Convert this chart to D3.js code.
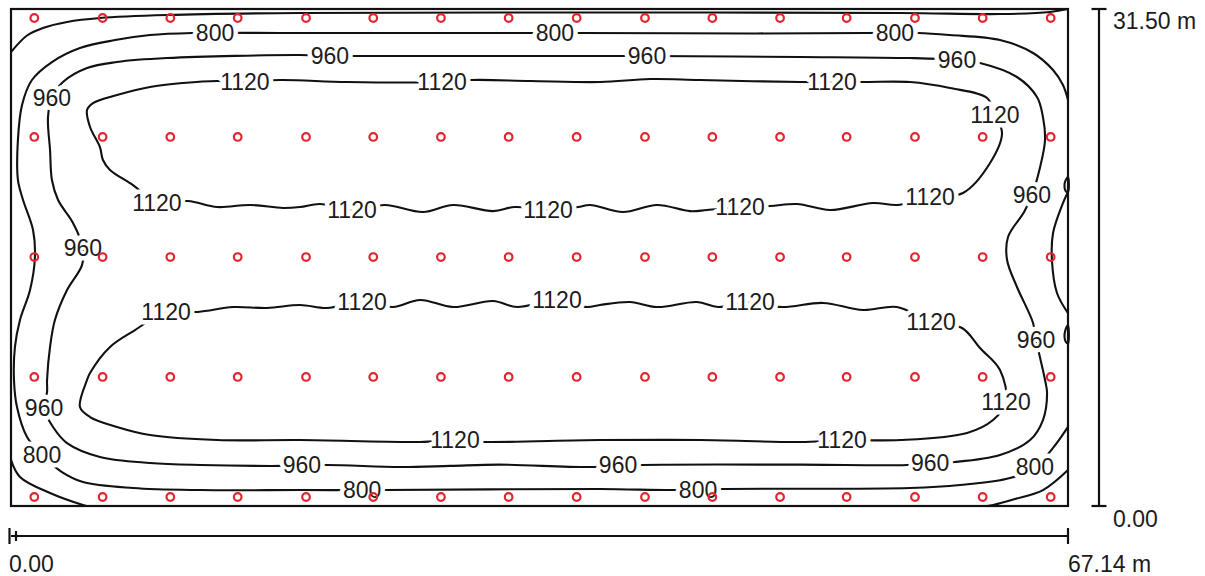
<!DOCTYPE html>
<html>
<head>
<meta charset="utf-8">
<script src="https://cdn.jsdelivr.net/npm/d3@7"></script>
<style>
    body { margin: 0; background: #fff; }
    svg { display: block; font-family: "Liberation Sans", Arial, sans-serif; }
</style>
</head>
<body>
<div id="chart"></div>
<script>
'use strict';

// room size in metres
const roomWidth = 67.14;
const roomDepth = 31.5;

// measuring points (metres)
const gridX = [1.48, 5.82, 10.12, 14.40, 18.74, 23.01, 27.31, 31.61, 35.93, 40.27, 44.55, 48.85, 53.08, 57.42, 61.72, 66.04];
const gridY = [0.57, 8.18, 15.78, 23.39, 30.93];

// isolux lines, [x, y] in metres
const line640Top = [[0, 28.77], [1.02, 29.82], [2.03, 30.30], [3.56, 30.68], [5.65, 30.93], [9.91, 31.12], [18.36, 31.25],
    [37.41, 31.28], [56.47, 31.25], [62.82, 31.18], [66.00, 31.31], [67.14, 31.5]];
const line640BottomLeft = [[0, 2.92], [0.57, 1.84], [2.48, 0.82], [4.57, 0.06], [4.8, 0]];
const line640BottomRight = [[67.14, 2.28], [65.55, 1.01], [63.77, 0.44], [62.38, 0.06], [62.0, 0]];

const line800 = [[67.14, 25.73], [66.82, 26.68], [66.19, 27.63], [64.92, 28.71], [62.82, 29.53], [59.64, 29.85], [57.61, 29.98],
    [54.37, 29.98], [46.94, 29.95], [36.14, 29.98], [32.97, 29.98], [24.71, 29.98], [17.09, 29.98], [11.50, 29.98],
    [8.83, 29.85], [6.61, 29.53], [4.38, 29.03], [2.60, 28.14], [1.33, 27.00], [0.70, 25.42], [0.44, 23.20],
    [0.44, 20.67], [0.76, 19.41], [1.40, 17.49], [1.52, 15.78], [1.21, 13.69], [0.57, 11.79], [0.25, 10.08],
    [0.19, 7.99], [0.38, 6.27], [1.02, 4.37], [1.97, 3.23], [3.24, 2.15], [4.57, 1.52], [7.75, 1.14], [12.01, 1.01],
    [18.36, 1.01], [23.76, 1.01], [37.41, 1.08], [42.05, 1.01], [45.23, 1.08], [57.10, 1.14], [60.28, 1.33],
    [63.46, 1.77], [65.04, 2.47], [66.19, 3.68], [67.14, 5.01]];
const line800Right = [[67.14, 19.90], [66.82, 19.20], [66.19, 17.30], [66.12, 15.59], [66.44, 13.50], [67.14, 12.23]];

// small islands touching the right wall
const island800Upper = [[67.14, 20.85], [66.95, 20.55], [66.92, 20.2], [67.0, 19.95], [67.14, 19.9]];
const island800Lower = [[67.14, 11.45], [66.96, 11.1], [66.92, 10.7], [67.0, 10.4], [67.14, 10.3]];

const line960 = [[20.26, 28.52], [21.85, 28.52], [29.79, 28.52], [37.41, 28.52], [40.40, 28.52], [50.12, 28.46],
    [57.10, 28.39], [60.09, 28.27], [61.55, 28.08], [63.90, 27.19], [65.17, 25.92], [65.55, 24.65], [65.68, 23.20],
    [65.37, 21.49], [64.85, 19.71], [64.35, 18.63], [63.33, 17.05], [63.27, 15.59], [63.90, 13.88], [64.92, 11.60],
    [65.11, 10.52], [65.37, 9.38], [65.68, 7.99], [65.81, 7.16], [65.55, 5.45], [64.73, 4.18], [62.82, 3.23],
    [59.96, 2.79], [58.38, 2.73], [56.91, 2.60], [50.12, 2.62], [40.08, 2.60], [36.78, 2.47], [31.0, 2.62],
    [27.89, 2.54], [24.7, 2.47], [20.07, 2.60], [17.21, 2.54], [12.01, 2.60], [8.83, 2.73], [5.65, 3.11],
    [3.56, 3.99], [2.67, 5.01], [2.10, 6.21], [2.29, 7.23], [2.29, 7.99], [2.48, 10.08], [2.79, 11.79],
    [3.56, 13.69], [4.51, 15.27], [4.57, 16.35], [3.94, 17.94], [2.99, 19.39], [2.60, 20.66], [2.48, 22.56],
    [2.35, 24.65], [2.60, 25.86], [3.30, 26.87], [4.83, 27.76], [6.73, 28.14], [9.91, 28.39], [18.36, 28.58]];

const line1120Upper = [[13.09, 26.94], [14.86, 26.87], [17.09, 27.00], [21.34, 26.87], [27.38, 26.87], [29.28, 27.00],
    [32.97, 26.94], [37.41, 26.87], [40.59, 27.06], [43.77, 27.00], [50.12, 26.87], [54.06, 26.87], [57.10, 26.87],
    [59.64, 26.49], [62.00, 25.86], [62.50, 24.78], [62.95, 23.64], [62.19, 21.74], [60.47, 19.84], [58.38, 19.58],
    [56.34, 19.08], [54.75, 19.20], [52.02, 18.76], [49.93, 19.14], [48.21, 19.01], [46.31, 18.95], [44.21, 18.76],
    [43.13, 18.69], [41.03, 19.08], [38.87, 18.63], [36.78, 19.08], [36.02, 18.95], [34.11, 18.76], [32.01, 18.95],
    [30.62, 18.69], [28.08, 19.08], [26.17, 18.63], [23.76, 19.08], [21.66, 18.76], [19.63, 19.14], [18.36, 18.95],
    [17.28, 18.89], [15.18, 19.08], [13.09, 18.95], [11.24, 19.33], [9.34, 19.20], [7.75, 20.34], [6.29, 21.30],
    [5.84, 21.93], [5.65, 22.75], [5.02, 24.02], [4.83, 25.10], [5.21, 25.54], [6.73, 26.05], [8.83, 26.56],
    [10.93, 26.81]];

const line1120Lower = [[9.85, 12.30], [11.88, 12.30], [14.10, 12.61], [16.26, 12.55], [18.36, 12.74], [20.07, 12.55],
    [22.30, 12.93], [24.26, 12.61], [25.98, 13.06], [28.08, 12.61], [30.62, 12.99], [32.14, 12.61], [34.68, 13.06],
    [36.59, 12.61], [37.41, 12.74], [39.32, 12.93], [41.03, 12.61], [43.57, 12.93], [44.91, 12.61], [46.94, 12.93],
    [48.97, 12.61], [51.58, 12.87], [54.12, 12.42], [56.28, 12.61], [58.44, 11.66], [60.41, 11.28], [61.55, 10.01],
    [62.82, 8.62], [63.20, 6.59], [62.38, 5.45], [60.73, 4.63], [56.47, 4.18], [52.79, 4.18], [50.12, 4.06],
    [43.77, 4.18], [37.41, 4.18], [29.98, 4.06], [28.20, 4.18], [25.98, 4.06], [18.36, 4.18], [13.09, 4.18],
    [8.83, 4.50], [6.73, 5.01], [5.02, 5.64], [4.38, 6.27], [4.83, 7.99], [5.02, 8.43], [6.29, 10.08], [7.88, 11.15]];

// label spots on the lines
const labels800 = [[12.96, 29.98], [34.55, 29.98], [56.15, 29.98], [1.97, 3.23], [65.04, 2.47], [22.30, 1.01], [43.64, 1.01]];
const labels960 = [[20.26, 28.52], [40.40, 28.52], [60.09, 28.27], [2.60, 25.86], [4.57, 16.35], [64.85, 19.71],
    [65.11, 10.52], [2.10, 6.21], [18.48, 2.60], [38.56, 2.60], [58.38, 2.73]];
const labels1120 = [[14.86, 26.87], [27.38, 26.87], [52.15, 26.87], [62.50, 24.78], [9.27, 19.20], [21.66, 18.76],
    [34.11, 18.76], [46.31, 18.95], [58.38, 19.58], [9.85, 12.30], [22.30, 12.93], [34.68, 13.06], [46.94, 12.93],
    [58.44, 11.66], [63.20, 6.59], [28.20, 4.18], [52.79, 4.18]];

const widthLabels = ['0.00', '67.14 m'];
const depthLabels = ['0.00', '31.50 m'];

const width = 1205, height = 576;

let svg = d3.select('#chart').append('svg')
    .attr('width', width)
    .attr('height', height);

let x = d3.scaleLinear().domain([0, roomWidth]).range([11, 1068]);
let y = d3.scaleLinear().domain([0, roomDepth]).range([506, 9]);

let openLine = d3.line()
    .x(function (d) { return x(d[0]); })
    .y(function (d) { return y(d[1]); })
    .curve(d3.curveCatmullRom.alpha(0.5));

let closedLine = d3.line()
    .x(function (d) { return x(d[0]); })
    .y(function (d) { return y(d[1]); })
    .curve(d3.curveCatmullRomClosed.alpha(0.5));

let openLines = [line640Top, line640BottomLeft, line640BottomRight, line800, line800Right];
let closedLines = [line960, line1120Upper, line1120Lower, island800Upper, island800Lower];

let lines = svg.append('g').attr('class', 'isolines');

lines.selectAll('.open-line').data(openLines).enter().append('path')
    .attr('class', 'open-line')
    .attr('d', openLine)
    .style('fill', 'none')
    .style('stroke', '#111')
    .style('stroke-width', 2.1)
    .style('stroke-linejoin', 'round');

lines.selectAll('.closed-line').data(closedLines).enter().append('path')
    .attr('class', 'closed-line')
    .attr('d', closedLine)
    .style('fill', 'none')
    .style('stroke', '#111')
    .style('stroke-width', 2.1)
    .style('stroke-linejoin', 'round');

// labels cut the line with a white halo
let labelData = [];
labels800.forEach(function (p) { labelData.push({x: p[0], y: p[1], text: '800'}); });
labels960.forEach(function (p) { labelData.push({x: p[0], y: p[1], text: '960'}); });
labels1120.forEach(function (p) { labelData.push({x: p[0], y: p[1], text: '1120'}); });

svg.append('g').selectAll('.line-label').data(labelData).enter().append('text')
    .attr('class', 'line-label')
    .attr('x', function (d) { return x(d.x); })
    .attr('y', function (d) { return y(d.y); })
    .attr('dy', '0.36em')
    .text(function (d) { return d.text; })
    .style('font-size', '23px')
    .style('text-anchor', 'middle')
    .style('fill', '#1c1c1c')
    .style('stroke', '#fff')
    .style('stroke-width', 9)
    .style('stroke-linejoin', 'round')
    .style('paint-order', 'stroke');

// room outline
svg.append('rect')
    .attr('x', x(0))
    .attr('y', y(roomDepth))
    .attr('width', x(roomWidth) - x(0))
    .attr('height', y(0) - y(roomDepth))
    .style('fill', 'none')
    .style('stroke', '#111')
    .style('stroke-width', 2.2);

// measuring points
let points = [];
gridY.forEach(function (gy) {
    gridX.forEach(function (gx) {
        points.push([gx, gy]);
    });
});

svg.append('g').selectAll('.grid-point').data(points).enter().append('circle')
    .attr('class', 'grid-point')
    .attr('cx', function (d) { return x(d[0]); })
    .attr('cy', function (d) { return y(d[1]); })
    .attr('r', 3.8)
    .style('fill', 'none')
    .style('stroke', '#e0262e')
    .style('stroke-width', 2.2);

// width bar under the plan
let barY = 536;
let bar = svg.append('g').style('stroke', '#111').style('stroke-width', 2.2);
bar.append('line').attr('x1', x(0)).attr('x2', x(roomWidth)).attr('y1', barY).attr('y2', barY);
bar.append('line').attr('x1', x(0) - 1.5).attr('x2', x(0) - 1.5).attr('y1', barY - 8).attr('y2', barY + 8);
bar.append('line').attr('x1', x(0) + 5).attr('x2', x(0) + 5).attr('y1', barY - 5).attr('y2', barY + 5);
bar.append('line').attr('x1', x(roomWidth)).attr('x2', x(roomWidth)).attr('y1', barY - 8).attr('y2', barY + 8);

svg.append('text').text(widthLabels[0])
    .attr('x', x(0) - 2).attr('y', 572)
    .style('font-size', '23px').style('fill', '#1c1c1c');
svg.append('text').text(widthLabels[1])
    .attr('x', x(roomWidth)).attr('y', 572)
    .style('font-size', '23px').style('fill', '#1c1c1c');

// depth bar right of the plan
let barX = 1099;
let vbar = svg.append('g').style('stroke', '#111').style('stroke-width', 2.2);
vbar.append('line').attr('x1', barX).attr('x2', barX).attr('y1', y(0)).attr('y2', y(roomDepth));
vbar.append('line').attr('x1', barX - 7.5).attr('x2', barX + 7.5).attr('y1', y(roomDepth)).attr('y2', y(roomDepth));
vbar.append('line').attr('x1', barX - 7.5).attr('x2', barX + 7.5).attr('y1', y(0)).attr('y2', y(0));

svg.append('text').text(depthLabels[1])
    .attr('x', 1113).attr('y', 29)
    .style('font-size', '23px').style('fill', '#1c1c1c');
svg.append('text').text(depthLabels[0])
    .attr('x', 1113).attr('y', 527)
    .style('font-size', '23px').style('fill', '#1c1c1c');
</script>
</body>
</html>
